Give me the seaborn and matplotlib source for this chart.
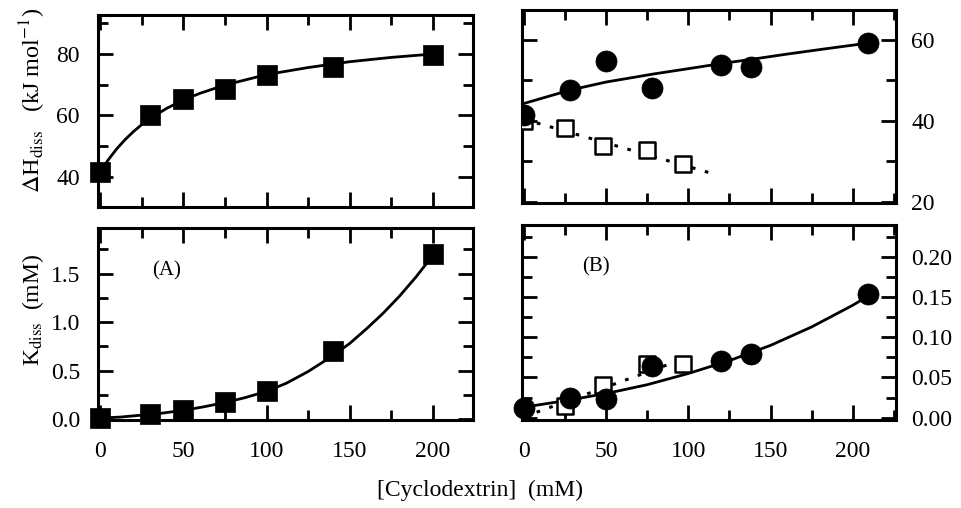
import numpy as np
import pandas as pd
import matplotlib
matplotlib.use("Agg")
import matplotlib.pyplot as plt
from matplotlib.ticker import MultipleLocator
import seaborn as sns

# ---------------- data ----------------
# Panel A : cyclodextrin concentration (mM)
a_conc = [0, 30, 50, 75, 100, 140, 200]
a_dH = [41.5, 60.3, 65.2, 68.5, 73.3, 75.9, 79.8]
a_K = [0.01, 0.05, 0.09, 0.18, 0.29, 0.70, 1.70]
# fitted curves of panel A
a_dH_fit_x = [0, 5, 10, 15, 20, 25, 30, 40, 50, 60, 75, 100, 125, 150, 175, 200]
a_dH_fit_y = [41.5, 45.6, 49.1, 52.1, 54.7, 57.0, 59.0, 62.3, 65.0, 67.2, 69.9,
              73.3, 75.6, 77.5, 78.9, 80.0]
a_K_fit_x = [0, 12, 25, 37, 50, 62, 75, 87, 100, 112, 125, 135, 142, 150, 160,
             170, 180, 190, 200]
a_K_fit_y = [0.01, 0.02, 0.04, 0.06, 0.09, 0.125, 0.17, 0.22, 0.285, 0.37, 0.49,
             0.60, 0.68, 0.78, 0.93, 1.09, 1.27, 1.47, 1.69]

# Panel B : filled circles
b_conc = [0, 28, 50, 78, 120, 138, 209]
b_dH = [41.5, 47.6, 54.9, 48.0, 53.7, 53.3, 59.2]
b_K = [0.012, 0.025, 0.023, 0.064, 0.071, 0.079, 0.154]
# Panel B : open squares
b2_conc = [0, 25, 48, 75, 97]
b2_dH = [40.0, 38.2, 33.9, 32.7, 29.4]
b2_conc_K = [25, 48, 75, 97]
b2_K = [0.014, 0.040, 0.067, 0.067]
# fitted curves of panel B
b_dH_fit_x = [0, 28, 50, 79, 100, 119, 140, 160, 185, 209]
b_dH_fit_y = [44.3, 47.6, 49.6, 51.6, 52.9, 54.1, 55.3, 56.5, 57.9, 59.2]
b_K_fit_x = [0, 25, 50, 75, 100, 125, 150, 175, 200, 209]
b_K_fit_y = [0.013, 0.021, 0.030, 0.041, 0.055, 0.071, 0.090, 0.113, 0.140, 0.151]
b2_dH_fit_x = [0, 117]
b2_dH_fit_y = [40.4, 26.7]
b2_K_fit_x = [0, 97]
b2_K_fit_y = [0.001, 0.073]

xlabel = "[Cyclodextrin]  (mM)"

# ---------------- style ----------------
sns.set_theme(style="ticks")
plt.rcParams["font.family"] = ["Liberation Serif", "DejaVu Serif"]
plt.rcParams["mathtext.fontset"] = "stix"
plt.rcParams["axes.linewidth"] = 2.2
plt.rcParams["axes.edgecolor"] = "black"
plt.rcParams["text.color"] = "black"
plt.rcParams["xtick.color"] = "black"
plt.rcParams["ytick.color"] = "black"
plt.rcParams["axes.labelcolor"] = "black"

W, H = 961, 508
fig = plt.figure(figsize=(W / 100, H / 100), dpi=100)


def add_ax(l, r, t, b):
    return fig.add_axes([l / W, 1 - b / H, (r - l) / W, (b - t) / H])


ax_tl = add_ax(98, 473, 15, 207)
ax_bl = add_ax(98, 473, 228, 420)
ax_tr = add_ax(522, 896, 10, 203)
ax_br = add_ax(522, 896, 225, 420)

TICK_FS = 17


def style(ax, xlim, ylim, ymaj, ymin, xlabels, ylabel_side, yfmt=None):
    ax.set_xlim(*xlim)
    ax.set_ylim(*ylim)
    ax.xaxis.set_major_locator(MultipleLocator(50))
    ax.xaxis.set_minor_locator(MultipleLocator(25))
    ax.yaxis.set_major_locator(MultipleLocator(ymaj))
    ax.yaxis.set_minor_locator(MultipleLocator(ymin))
    ax.tick_params(which="both", direction="in", top=True, right=True,
                   bottom=True, left=True, width=2.0, color="black",
                   labelsize=TICK_FS, labelcolor="black")
    ax.tick_params(which="major", length=11)
    ax.tick_params(which="minor", length=7)
    ax.tick_params(axis="x", labelbottom=xlabels, pad=15)
    if ylabel_side == "left":
        ax.tick_params(axis="y", labelleft=True, labelright=False, pad=13)
    else:
        ax.tick_params(axis="y", labelleft=False, labelright=True, pad=11)
    if yfmt:
        ax.yaxis.set_major_formatter(yfmt)
    ax.set_xlabel("")
    ax.set_ylabel("")
    for s in ax.spines.values():
        s.set_visible(True)
        s.set_linewidth(2.2)
        s.set_color("black")
    ax.set_facecolor("white")


LW = 2.0

# ---- top left ----
sns.lineplot(x=a_dH_fit_x, y=a_dH_fit_y, ax=ax_tl, color="black", lw=LW)
sns.scatterplot(x=a_conc, y=a_dH, ax=ax_tl, marker="s", s=210, color="black",
                edgecolor="black", linewidth=0.5, zorder=3, clip_on=False)
style(ax_tl, (-1.2, 224), (30.2, 92.7), 20, 10, False, "left")

# ---- bottom left ----
sns.lineplot(x=a_K_fit_x, y=a_K_fit_y, ax=ax_bl, color="black", lw=LW)
sns.scatterplot(x=a_conc, y=a_K, ax=ax_bl, marker="s", s=210, color="black",
                edgecolor="black", linewidth=0.5, zorder=3, clip_on=False)
style(ax_bl, (-0.012 * 0 - 1.2, 224), (-0.01, 1.97), 0.5, 0.25, True, "left",
      plt.FuncFormatter(lambda v, p: f"{v:.1f}"))
ax_bl.text(40, 1.53, "(A)", fontsize=15, ha="center", va="center")

# ---- top right ----
sns.lineplot(x=b_dH_fit_x, y=b_dH_fit_y, ax=ax_tr, color="black", lw=LW)
sns.lineplot(x=b2_dH_fit_x, y=b2_dH_fit_y, ax=ax_tr, color="black", lw=2.2,
             linestyle=(0, (1.2, 3.2)))
sns.scatterplot(x=b2_conc, y=b2_dH, ax=ax_tr, marker="s", s=125,
                facecolor="white", edgecolor="black", linewidth=1.8, zorder=3)
sns.scatterplot(x=b_conc, y=b_dH, ax=ax_tr, marker="o", s=230, color="black",
                edgecolor="black", linewidth=0.5, zorder=4)
style(ax_tr, (-1.2, 226.3), (19.7, 67.4), 20, 10, False, "right")

# ---- bottom right ----
sns.lineplot(x=b_K_fit_x, y=b_K_fit_y, ax=ax_br, color="black", lw=LW)
sns.lineplot(x=b2_K_fit_x, y=b2_K_fit_y, ax=ax_br, color="black", lw=2.2,
             linestyle=(0, (1.2, 3.2)))
sns.scatterplot(x=b2_conc_K, y=b2_K, ax=ax_br, marker="s", s=125,
                facecolor="white", edgecolor="black", linewidth=1.8, zorder=3,
                clip_on=False)
sns.scatterplot(x=b_conc, y=b_K, ax=ax_br, marker="o", s=230, color="black",
                edgecolor="black", linewidth=0.5, zorder=4, clip_on=False)
style(ax_br, (-1.2, 226.3), (-0.003, 0.24), 0.05, 0.025, True, "right",
      plt.FuncFormatter(lambda v, p: f"{v:.2f}"))
ax_br.text(44, 0.188, "(B)", fontsize=15, ha="center", va="center")

for ax in (ax_tl, ax_bl, ax_tr, ax_br):
    leg = ax.get_legend()
    if leg:
        leg.remove()

# ---- axis titles ----
fig.text(33 / W, 1 - 100 / H, r"$\Delta$H$_{\rm diss}$   (kJ mol$^{-1}$)",
         rotation=90, ha="center", va="center", fontsize=17.5)
fig.text(33 / W, 1 - 310 / H, r"K$_{\rm diss}$  (mM)",
         rotation=90, ha="center", va="center", fontsize=17)
fig.text(480 / W, 1 - 490 / H, xlabel, ha="center", va="center", fontsize=17)

fig.savefig("out.png", dpi=100, facecolor="white")
